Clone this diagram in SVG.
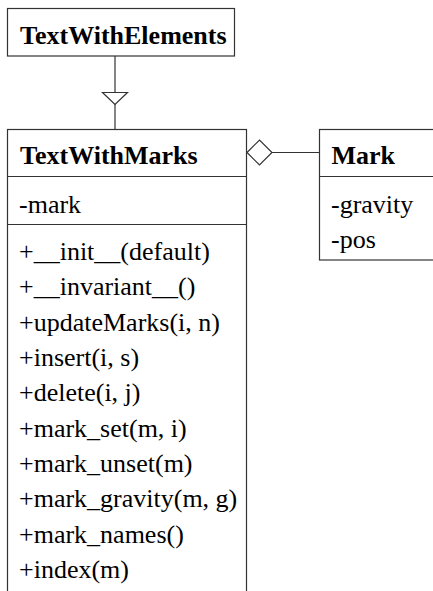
<svg xmlns="http://www.w3.org/2000/svg" width="433" height="591" viewBox="0 0 433 591">
<style>
.box{fill:#fff;stroke:#333;stroke-width:1.2}
.sep{stroke:#333;stroke-width:1.2}
.edge{fill:none;stroke:#333;stroke-width:1.2}
.head{fill:#fff;stroke:#333;stroke-width:1.2}
.t{font-family:"Liberation Serif","Times New Roman",serif;font-size:26px;fill:#000}
.b{font-weight:bold}
</style>
<rect width="433" height="591" fill="#fff"/>
<g id="connectors">
<line class="edge" x1="115" y1="56" x2="115" y2="129.5"/>
<polygon class="head" points="102.5,92.5 127.5,92.5 115,104.5"/>
<line class="edge" x1="272" y1="152.5" x2="319.5" y2="152.5"/>
<polygon class="head" points="247,152.5 259.5,140 272,152.5 259.5,165"/>
</g>
<g id="TextWithElements">
<rect class="box" x="7.5" y="8.5" width="227" height="47.5"/>
<text class="t b" x="20" y="44">TextWithElements</text>
</g>
<g id="TextWithMarks">
<rect class="box" x="7.5" y="129.5" width="239" height="480"/>
<line class="sep" x1="7.5" y1="176.5" x2="246.5" y2="176.5"/>
<line class="sep" x1="7.5" y1="224.5" x2="246.5" y2="224.5"/>
<text class="t b" x="20" y="164">TextWithMarks</text>
<text class="t" x="19" y="212.5">-mark</text>
<text class="t" x="19" y="260">+__init__(default)</text>
<text class="t" x="19" y="295.3">+__invariant__()</text>
<text class="t" x="19" y="330.6">+updateMarks(i, n)</text>
<text class="t" x="19" y="366">+insert(i, s)</text>
<text class="t" x="19" y="401.3">+delete(i, j)</text>
<text class="t" x="19" y="436.6">+mark_set(m, i)</text>
<text class="t" x="19" y="472">+mark_unset(m)</text>
<text class="t" x="19" y="507.3">+mark_gravity(m, g)</text>
<text class="t" x="19" y="542.6">+mark_names()</text>
<text class="t" x="19" y="578">+index(m)</text>
</g>
<g id="Mark">
<rect class="box" x="319.5" y="129.5" width="140" height="130.5"/>
<line class="sep" x1="319.5" y1="176.5" x2="459.5" y2="176.5"/>
<text class="t b" x="331.5" y="164">Mark</text>
<text class="t" x="331" y="212.5">-gravity</text>
<text class="t" x="331" y="248">-pos</text>
</g>
</svg>
